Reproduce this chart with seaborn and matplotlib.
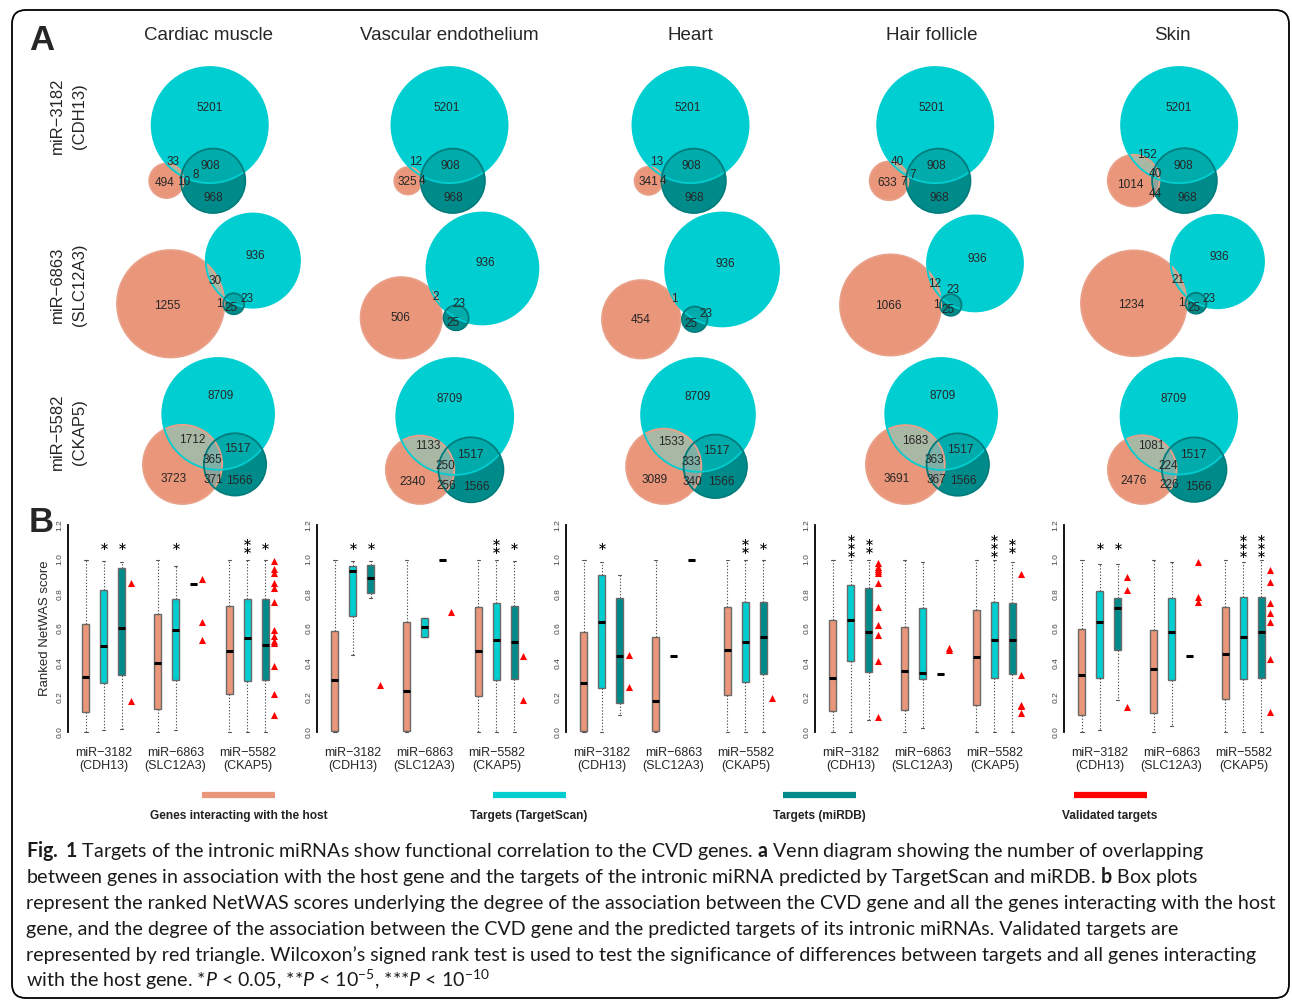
import numpy as np
import pandas as pd
import matplotlib
matplotlib.use("Agg")
import matplotlib.pyplot as plt
import seaborn as sns
from matplotlib.patches import Circle, Polygon, FancyBboxPatch
from matplotlib.lines import Line2D
from matplotlib.transforms import IdentityTransform
from matplotlib import font_manager

# ---------------------------------------------------------------- data
tissues = ["Cardiac muscle", "Vascular endothelium", "Heart", "Hair follicle", "Skin"]
mirnas = ["miR\u22123182", "miR\u22126863", "miR\u22125582"]
hosts = ["(CDH13)", "(SLC12A3)", "(CKAP5)"]
kinds = ["Genes interacting with the host", "Targets (TargetScan)", "Targets (miRDB)"]

# Venn region counts per tissue:
# host only, TargetScan only, miRDB only, host&TS, host&miRDB, TS&miRDB, all three
venn_mir3182 = [
    [494, 5201, 968, 33, 10, 908, 8],
    [325, 5201, 968, 12, 4, 908, 0],
    [341, 5201, 968, 13, 4, 908, 0],
    [633, 5201, 968, 40, 7, 908, 7],
    [1014, 5201, 968, 152, 44, 908, 40],
]
venn_mir6863 = [
    [1255, 936, 25, 30, 1, 23, 0],
    [506, 936, 25, 2, 0, 23, 0],
    [454, 936, 25, 1, 0, 23, 0],
    [1066, 936, 25, 12, 1, 23, 0],
    [1234, 936, 25, 21, 1, 23, 0],
]
venn_mir5582 = [
    [3723, 8709, 1566, 1712, 371, 1517, 365],
    [2340, 8709, 1566, 1133, 256, 1517, 250],
    [3089, 8709, 1566, 1533, 340, 1517, 333],
    [3691, 8709, 1566, 1683, 367, 1517, 363],
    [2476, 8709, 1566, 1081, 226, 1517, 224],
]

# Ranked NetWAS score summaries [low whisker, Q1, median, Q3, high whisker]
# order: (3182 host, TS, miRDB), (6863 host, TS, miRDB), (5582 host, TS, miRDB)
cardiac_boxes = [
    [0.0, 0.116, 0.32, 0.625, 1.0], [0.01, 0.282, 0.50, 0.826, 0.99], [0.015, 0.33, 0.604, 0.949, 0.986],
    [0.0, 0.133, 0.40, 0.683, 1.0], [0.01, 0.30, 0.594, 0.772, 0.965], [0.86] * 5,
    [0.0, 0.218, 0.471, 0.729, 1.0], [0.0, 0.295, 0.544, 0.77, 1.0], [0.0, 0.303, 0.507, 0.77, 1.0],
]
vascular_boxes = [
    [0.0, 0.005, 0.30, 0.585, 1.0], [0.444, 0.671, 0.932, 0.963, 0.99], [0.774, 0.803, 0.891, 0.967, 0.99],
    [0.0, 0.005, 0.24, 0.64, 1.0], [0.55, 0.55, 0.606, 0.66, 0.66], [1.0] * 5,
    [0.0, 0.206, 0.467, 0.727, 1.0], [0.0, 0.30, 0.531, 0.749, 1.0], [0.0, 0.309, 0.519, 0.731, 0.99],
]
heart_boxes = [
    [0.0, 0.005, 0.286, 0.579, 1.0], [0.0, 0.253, 0.639, 0.909, 0.986], [0.096, 0.17, 0.442, 0.774, 0.909],
    [0.0, 0.005, 0.178, 0.55, 1.0], [0.442] * 5, [1.0] * 5,
    [0.0, 0.214, 0.473, 0.727, 1.0], [0.0, 0.289, 0.521, 0.752, 1.0], [0.0, 0.334, 0.548, 0.752, 1.0],
]
hair_boxes = [
    [0.0, 0.122, 0.314, 0.648, 1.0], [0.0, 0.411, 0.65, 0.855, 1.0], [0.071, 0.347, 0.581, 0.833, 1.0],
    [0.0, 0.125, 0.351, 0.61, 1.0], [0.023, 0.309, 0.343, 0.718, 0.986], [0.338] * 5,
    [0.0, 0.156, 0.432, 0.71, 1.0], [0.0, 0.314, 0.536, 0.756, 1.0], [0.0, 0.334, 0.536, 0.749, 0.986],
]
skin_boxes = [
    [0.0, 0.10, 0.33, 0.596, 1.0], [0.01, 0.313, 0.635, 0.816, 0.976], [0.185, 0.477, 0.716, 0.778, 0.972],
    [0.0, 0.11, 0.365, 0.594, 1.0], [0.033, 0.30, 0.581, 0.776, 0.984], [0.442] * 5,
    [0.0, 0.191, 0.455, 0.723, 1.0], [0.0, 0.305, 0.552, 0.781, 0.986], [0.0, 0.314, 0.579, 0.781, 1.0],
]

# validated targets (red triangles), per miRNA
cardiac_validated = [[0.866, 0.181], [0.887, 0.639, 0.536],
                     [0.99, 0.945, 0.924, 0.866, 0.837, 0.756, 0.592, 0.554, 0.525, 0.515, 0.38, 0.222, 0.10]]
vascular_validated = [[0.274], [0.698], [0.442, 0.187]]
heart_validated = [[0.446, 0.259], [], [0.195]]
hair_validated = [[0.978, 0.959, 0.945, 0.934, 0.92, 0.862, 0.722, 0.623, 0.563, 0.413, 0.089],
                  [0.486, 0.477], [0.916, 0.332, 0.154, 0.149, 0.108]]
skin_validated = [[0.899, 0.822, 0.147], [0.988, 0.785, 0.751],
                  [0.94, 0.872, 0.749, 0.687, 0.639, 0.424, 0.116]]

# significance stars per box
cardiac_stars = [0, 1, 1, 0, 1, 0, 0, 2, 1]
vascular_stars = [0, 1, 1, 0, 0, 0, 0, 2, 1]
heart_stars = [0, 1, 0, 0, 0, 0, 0, 2, 1]
hair_stars = [0, 3, 2, 0, 0, 0, 0, 3, 2]
skin_stars = [0, 1, 1, 0, 0, 0, 0, 3, 3]

# ---------------------------------------------------------------- style
W, H = 1292, 1002
sns.set_theme(style="white")
installed = {f.name for f in font_manager.fontManager.ttflist}
cap_font = "Lato" if "Lato" in installed else "Open Sans"
plt.rcParams["font.family"] = ["Liberation Sans", "DejaVu Sans"]
plt.rcParams["mathtext.fontset"] = "custom"
plt.rcParams["mathtext.rm"] = cap_font
plt.rcParams["mathtext.it"] = cap_font + ":italic"
plt.rcParams["mathtext.bf"] = cap_font + ":bold"

host_c, ts_c, mirdb_c, valid_c = "#E9967A", "#00CED1", "#008B8B", "#FF0000"
sc_c, st_c, ct_c, sct_c = "#A9B8A5", "#8FA39A", "#00ABAC", "#7DB0A7"
edge_cols = ["#E9A088", "#00CED1", "#007C7C"]

fig = plt.figure(figsize=(W / 100, H / 100), dpi=100)
fx = lambda x: x / W
fy = lambda y: 1 - y / H

VENN_BOX_W, VENN_BOX_H = 183, 146
VENN_FONT = 8.5

# ---------------------------------------------------------------- Venn helpers
def lens_area(r1, r2, d):
    if d >= r1 + r2:
        return 0.0
    if d <= abs(r1 - r2):
        return np.pi * min(r1, r2) ** 2
    a1 = r1 ** 2 * np.arccos((d * d + r1 * r1 - r2 * r2) / (2 * d * r1))
    a2 = r2 ** 2 * np.arccos((d * d + r2 * r2 - r1 * r1) / (2 * d * r2))
    a3 = 0.5 * np.sqrt((-d + r1 + r2) * (d + r1 - r2) * (d - r1 + r2) * (d + r1 + r2))
    return a1 + a2 - a3


def pair_distance(r1, r2, overlap):
    if overlap <= 0:
        return (r1 + r2) * 1.03
    lo, hi = abs(r1 - r2), r1 + r2
    if overlap >= np.pi * min(r1, r2) ** 2:
        return lo
    for _ in range(80):
        mid = 0.5 * (lo + hi)
        if lens_area(r1, r2, mid) > overlap:
            lo = mid
        else:
            hi = mid
    return 0.5 * (lo + hi)


def venn_layout(counts):
    s, c, t, sc, st, ct, sct = counts
    sizes = [s + sc + st + sct, c + sc + ct + sct, t + st + ct + sct]
    rS, rC, rT = [np.sqrt(n / np.pi) for n in sizes]
    dSC = pair_distance(rS, rC, sc + sct)
    dST = pair_distance(rS, rT, st + sct)
    dCT = pair_distance(rC, rT, ct + sct)
    # host and miRDB sets side by side, TargetScan set above them
    xC = (dSC ** 2 - dCT ** 2 + dST ** 2) / (2 * dST)
    yC = np.sqrt(max(dSC ** 2 - xC ** 2, 0.0))
    return np.array([[0.0, 0.0], [xC, yC], [dST, 0.0]]), np.array([rS, rC, rT])


def disk_intersection(centers, radii, idxs, n=720):
    th = np.linspace(0, 2 * np.pi, n, endpoint=False)
    pts = []
    for i in idxs:
        p = centers[i] + radii[i] * np.column_stack([np.cos(th), np.sin(th)])
        keep = np.ones(n, bool)
        for j in idxs:
            if j != i:
                keep &= np.hypot(*(p - centers[j]).T) <= radii[j] + 1e-9
        pts.append(p[keep])
    pts = np.vstack(pts)
    if len(pts) < 3:
        return None
    ctr = pts.mean(0)
    order = np.argsort(np.arctan2(pts[:, 1] - ctr[1], pts[:, 0] - ctr[0]))
    return pts[order]


region_keys = [(1, 0, 0), (0, 1, 0), (0, 0, 1), (1, 1, 0), (1, 0, 1), (0, 1, 1), (1, 1, 1)]


def label_points(centers, radii, bounds, n=420):
    x0, x1, y0, y1 = bounds
    X, Y = np.meshgrid(np.linspace(x0, x1, n), np.linspace(y0, y1, n))
    D = [np.hypot(X - c[0], Y - c[1]) for c in centers]
    inside = [d <= r for d, r in zip(D, radii)]
    edge = np.min([np.abs(d - r) for d, r in zip(D, radii)], axis=0)
    out = []
    for key in region_keys:
        mask = np.ones_like(X, bool)
        for k, ins in zip(key, inside):
            mask &= ins if k else ~ins
        if mask.any():
            score = np.where(mask, edge, -1)
            idx = np.unravel_index(np.argmax(score), X.shape)
        else:
            viol = sum(np.maximum(0, d - r) if k else np.maximum(0, r - d)
                       for k, d, r in zip(key, D, radii))
            idx = np.unravel_index(np.argmin(viol), X.shape)
        out.append([X[idx], Y[idx]])
    return np.array(out)


def spread_labels(pos, texts, scale, movable, iters=200):
    """Nudge region labels apart so their boxes do not overlap (sizes in px)."""
    pos = pos.copy()
    hw = np.array([(len(t) * 0.556 * VENN_FONT * 1.389 / 2 + 1.0) / scale for t in texts])
    hh = np.full(len(texts), (VENN_FONT * 1.389 * 0.75 + 1.0) / scale)
    for _ in range(iters):
        moved = False
        for i in range(len(pos)):
            for j in range(i + 1, len(pos)):
                dx = pos[j, 0] - pos[i, 0]
                dy = pos[j, 1] - pos[i, 1]
                ox = hw[i] + hw[j] - abs(dx)
                oy = hh[i] + hh[j] - abs(dy)
                if ox > 0 and oy > 0:
                    moved = True
                    wi, wj = movable[i], movable[j]
                    if wi + wj == 0:
                        continue
                    if oy <= ox:
                        step = oy * (1 if dy >= 0 else -1)
                        pos[i, 1] -= step * wi / (wi + wj)
                        pos[j, 1] += step * wj / (wi + wj)
                    else:
                        step = ox * (1 if dx >= 0 else -1)
                        pos[i, 0] -= step * wi / (wi + wj)
                        pos[j, 0] += step * wj / (wi + wj)
        if not moved:
            break
    return pos


def draw_venn(ax, counts):
    centers, radii = venn_layout(counts)
    for c, r, col in zip(centers, radii, [host_c, ts_c, mirdb_c]):
        ax.add_patch(Circle(c, r, facecolor=col, edgecolor="none", zorder=1, clip_on=False))
    for idxs, col in [((0, 1), sc_c), ((0, 2), st_c), ((1, 2), ct_c), ((0, 1, 2), sct_c)]:
        poly = disk_intersection(centers, radii, idxs)
        if poly is not None:
            ax.add_patch(Polygon(poly, closed=True, facecolor=col, edgecolor="none",
                                 zorder=1 + len(idxs), clip_on=False))
    for c, r, col in zip(centers, radii, edge_cols):
        ax.add_patch(Circle(c, r, fill=False, edgecolor=col, lw=1.3, zorder=6, clip_on=False))
    bounds = (min(centers[:, 0] - radii), max(centers[:, 0] + radii),
              min(centers[:, 1] - radii), max(centers[:, 1] + radii))
    scale = min(VENN_BOX_W / (bounds[1] - bounds[0]), VENN_BOX_H / (bounds[3] - bounds[2]))
    pts = label_points(centers, radii, bounds)
    keep = [k for k, v in enumerate(counts) if v > 0]
    texts = [str(counts[k]) for k in keep]
    # labels of the three single-set regions stay put, overlap labels make room
    movable = [0.0 if k < 3 else 1.0 for k in keep]
    pts = spread_labels(pts[keep], texts, scale, movable)
    for (lx, ly), t in zip(pts, texts):
        ax.text(lx, ly, t, ha="center", va="center", fontsize=VENN_FONT, zorder=7)
    ax.set_xlim(bounds[0], bounds[1])
    ax.set_ylim(bounds[2], bounds[3])
    ax.set_aspect("equal", adjustable="datalim")
    ax.set_axis_off()


# ---------------------------------------------------------------- panel A
fig.text(fx(42), fy(40), "A", fontsize=25, fontweight="bold", ha="center", va="center")
col_x = [208.5 + 241 * j for j in range(5)]
row_y = [140, 285.5, 431]
row_label_y = [116, 285, 432]
for j, name in enumerate(tissues):
    fig.text(fx(col_x[j]), fy(36), name, fontsize=13.5, ha="center", va="center")
for i in range(3):
    fig.text(fx(57), fy(row_label_y[i]), mirnas[i], fontsize=12, rotation=90, ha="center", va="center")
    fig.text(fx(80), fy(row_label_y[i]), hosts[i], fontsize=12, rotation=90, ha="center", va="center")

for i, venns in enumerate([venn_mir3182, venn_mir6863, venn_mir5582]):
    for j, counts in enumerate(venns):
        ax = fig.add_axes([fx(col_x[j] - VENN_BOX_W / 2), fy(row_y[i] + VENN_BOX_H / 2),
                           VENN_BOX_W / W, VENN_BOX_H / H])
        draw_venn(ax, counts)

# ---------------------------------------------------------------- panel B
fig.text(fx(41), fy(522), "B", fontsize=25, fontweight="bold", ha="center", va="center")
palette = dict(zip(kinds, [host_c, ts_c, mirdb_c]))
panels = [
    (cardiac_boxes, cardiac_validated, cardiac_stars),
    (vascular_boxes, vascular_validated, vascular_stars),
    (heart_boxes, heart_validated, heart_stars),
    (hair_boxes, hair_validated, hair_stars),
    (skin_boxes, skin_validated, skin_stars),
]
px_per_unit_y = 172.5
ax_bottom_px = 732 + 0.048 * px_per_unit_y
ax_top_px = 525 - 0.048 * px_per_unit_y

for p, (boxes, validated, stars) in enumerate(panels):
    left_px = 68 + 249 * p
    ax = fig.add_axes([fx(left_px), fy(ax_bottom_px), 233 / W, (ax_bottom_px - ax_top_px) / H])
    rows = []
    for g in range(3):
        for k in range(3):
            for v in boxes[3 * g + k]:
                rows.append({"pos": 1 + 4 * g + k, "score": v, "kind": kinds[k]})
    df = pd.DataFrame(rows)
    sns.boxplot(data=df, x="pos", y="score", hue="kind", hue_order=kinds, palette=palette,
                native_scale=True, dodge=False, width=0.42, whis=np.inf, showfliers=False,
                linewidth=1.0, linecolor="#6a6a6a", legend=False, saturation=1,
                medianprops=dict(color="black", linewidth=2.2),
                whiskerprops=dict(color="#555555", linewidth=0.8, linestyle=(0, (1.2, 1.6))),
                capprops=dict(color="#555555", linewidth=0.8), ax=ax)

    tri_x, tri_y = [], []
    for g in range(3):
        tri_x += [3.5 + 4 * g] * len(validated[g])
        tri_y += validated[g]
    if tri_x:
        sns.scatterplot(x=tri_x, y=tri_y, marker="^", color=valid_c, s=26, linewidth=0,
                        ax=ax, legend=False, zorder=5)

    st_x, st_y = [], []
    for b, n in enumerate(stars):
        pos = 1 + 4 * (b // 3) + b % 3
        for m in range(n):
            st_x.append(pos)
            st_y.append(1.08 + (m - (n - 1) / 2) * 0.046)
    if st_x:
        sns.scatterplot(x=st_x, y=st_y, marker="$*$", color="black", s=26, linewidth=0,
                        ax=ax, legend=False, zorder=5)

    ax.set_xlim(0.02, 12.98)
    ax.set_ylim(-0.048, 1.248)
    for side in ["top", "right", "bottom"]:
        ax.spines[side].set_visible(False)
    ax.spines["left"].set_bounds(0, 1.2)
    ax.spines["left"].set_color("black")
    ax.spines["left"].set_linewidth(1.3)
    ax.set_yticks(np.round(np.arange(0, 1.21, 0.2), 1))
    ax.set_yticklabels([f"{v:.1f}" for v in np.arange(0, 1.21, 0.2)], rotation=90,
                       va="center", fontsize=6, color="#444444")
    ax.tick_params(axis="y", length=0, pad=3)
    ax.set_xticks([2, 6, 10])
    ax.set_xticklabels([f"{m}\n{h}" for m, h in zip(mirnas, hosts)], fontsize=9, linespacing=1.05)
    ax.tick_params(axis="x", length=0, pad=5)
    ax.set_xlabel("")
    ax.set_facecolor("none")
    if p == 0:
        ax.set_ylabel("Ranked NetWAS score", fontsize=9.5, labelpad=4)
    else:
        ax.set_ylabel("")

# legend strip
legend_labels = kinds + ["Validated targets"]
legend_cols = [host_c, ts_c, mirdb_c, valid_c]
for i, (lab, col) in enumerate(zip(legend_labels, legend_cols)):
    cx = 238.5 + 290.5 * i
    fig.add_artist(Line2D([fx(cx - 36.5), fx(cx + 36.5)], [fy(795), fy(795)], lw=4.5,
                          color=col, transform=fig.transFigure, solid_capstyle="butt"))
    fig.text(fx(cx), fy(816), lab, fontsize=8.6, fontweight="bold", ha="center", va="center",
             color="#222222")

# caption
caption = [
    r"$\mathbf{Fig.\ 1}$ Targets of the intronic miRNAs show functional correlation to the CVD genes. $\mathbf{a}$ Venn diagram showing the number of overlapping",
    r"between genes in association with the host gene and the targets of the intronic miRNA predicted by TargetScan and miRDB. $\mathbf{b}$ Box plots",
    "represent the ranked NetWAS scores underlying the degree of the association between the CVD gene and all the genes interacting with the host",
    "gene, and the degree of the association between the CVD gene and the predicted targets of its intronic miRNAs. Validated targets are",
    "represented by red triangle. Wilcoxon\u2019s signed rank test is used to test the significance of differences between targets and all genes interacting",
    r"with the host gene. *$P$ < 0.05, **$P$ < 10$^{-5}$, ***$P$ < 10$^{-10}$",
]
for k, line in enumerate(caption):
    fig.text(fx(26), fy(857 + 26 * k), line, fontsize=14.1, family=cap_font,
             ha="left", va="baseline", color="#1a1a1a")

# rounded frame
fig.add_artist(FancyBboxPatch((12, H - 998), 1277, 988, boxstyle="round,pad=0,rounding_size=14",
                              fill=False, lw=1.3, edgecolor="black", transform=IdentityTransform()))

fig.savefig("out.png", dpi=100, facecolor="white")
